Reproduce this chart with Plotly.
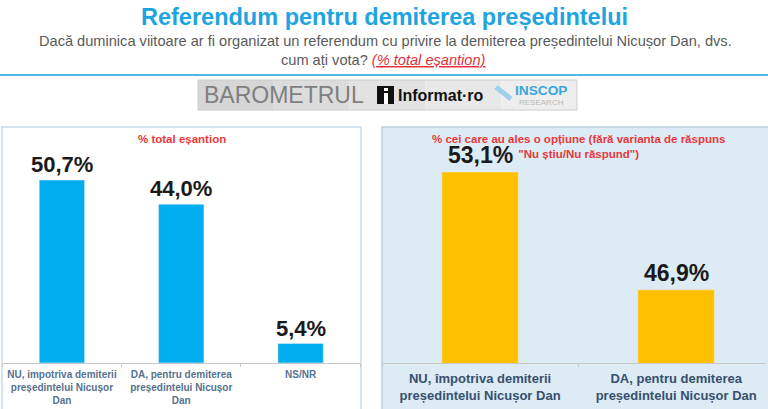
import plotly.graph_objects as go

W, H = 768, 409

# date sondaj
chei_total = ['nu', 'da', 'nsnr']
etichete_total = ['NU, impotriva demiterii<br>președintelui Nicușor<br>Dan',
                  'DA, pentru demiterea<br>președintelui Nicușor<br>Dan',
                  'NS/NR']
valori_total = [50.7, 44.0, 5.4]

chei_optiune = ['nu', 'da']
etichete_optiune = ['NU, împotriva demiterii<br>președintelui Nicușor Dan',
                    'DA, pentru demiterea<br>președintelui Nicușor Dan']
valori_optiune = [53.1, 46.9]

FONT = 'Liberation Sans, Arial, sans-serif'


def px_x(x):
    return x / W


def px_y(y):
    return 1 - y / H


def eticheta(v):
    return f"{v:.1f}".replace('.', ',') + '%'


fig = go.Figure()

fig.add_trace(go.Bar(x=chei_total, y=valori_total, marker_color='#00aeef',
                     width=0.38, xaxis='x', yaxis='y', hoverinfo='skip'))
fig.add_trace(go.Bar(x=chei_optiune, y=valori_optiune, marker_color='#ffc000',
                     width=0.39, xaxis='x2', yaxis='y2', hoverinfo='skip'))

annotations = []

# etichete valori
for k, v in zip(chei_total, valori_total):
    annotations.append(dict(x=k, y=v, xref='x', yref='y', text=eticheta(v),
                            showarrow=False, yanchor='bottom', yshift=1,
                            font=dict(family=FONT, size=22, color='#1a1a1a', weight='bold')))
for k, v in zip(chei_optiune, valori_optiune):
    annotations.append(dict(x=k, y=v, xref='x2', yref='y2', text=eticheta(v),
                            showarrow=False, yanchor='bottom', yshift=2,
                            font=dict(family=FONT, size=23, color='#1a1a1a', weight='bold')))


def text(x, y, t, size, color, weight='normal', style='normal'):
    annotations.append(dict(x=px_x(x), y=px_y(y), xref='paper', yref='paper', text=t,
                            showarrow=False, xanchor='center', yanchor='middle',
                            font=dict(family=FONT, size=size, color=color,
                                      weight=weight, style=style)))


# titlu si intrebare
text(384, 17, 'Referendum pentru demiterea președintelui', 23.5, '#1ea4e0', 'bold')
text(385, 41, 'Dacă duminica viitoare ar fi organizat un referendum cu privire la demiterea '
     'președintelui Nicușor Dan, dvs.', 14.6, '#5a5a5a')
text(383, 60, 'cum ați vota? <span style="color:#e0303a;text-decoration:underline">'
     '<i>(% total eșantion)</i></span>', 14.6, '#5a5a5a')

# fundal logo (gradient simplu in benzi)
benzi = ['#d6d6d6', '#dcdcdc', '#e2e2e2', '#e8e8e8', '#eeeeee']
shapes = []
for i, c in enumerate(benzi):
    x0 = 198 + i * (577 - 198) / len(benzi)
    x1 = 198 + (i + 1) * (577 - 198) / len(benzi)
    shapes.append(dict(type='rect', xref='paper', yref='paper', x0=px_x(x0), x1=px_x(x1),
                       y0=px_y(110), y1=px_y(80), fillcolor=c, line=dict(width=0)))

# logo
text(284, 95, 'BAROMETRUL', 23, '#7f7f7f')
text(441, 96, 'Informat·ro', 16, '#111111', 'bold')
text(541, 91, 'INSCOP', 13.7, '#3aa6dc', 'bold')
text(541, 102, 'RESEARCH', 8, '#b8b8b8')

# subtitluri panouri
text(182, 139, '% total eșantion', 11.5, '#e8383d', 'bold')
text(578, 146, '% cei care au ales o opțiune (fără varianta de răspuns<br>'
     '"Nu știu/Nu răspund")', 11.5, '#e8383d', 'bold')

shapes += [
    dict(type='line', xref='paper', yref='paper', x0=0, x1=1, y0=px_y(75), y1=px_y(75),
         line=dict(color='#4fb8e0', width=2)),
    dict(type='rect', xref='paper', yref='paper', x0=px_x(198), x1=px_x(577),
         y0=px_y(110), y1=px_y(80), line=dict(color='#cccccc', width=1)),
    dict(type='rect', xref='paper', yref='paper', x0=px_x(377), x1=px_x(394),
         y0=px_y(104), y1=px_y(86), fillcolor='#111111', line=dict(width=0)),
    dict(type='rect', xref='paper', yref='paper', x0=px_x(384), x1=px_x(388),
         y0=px_y(104), y1=px_y(93), fillcolor='#ffffff', line=dict(width=0)),
    dict(type='rect', xref='paper', yref='paper', x0=px_x(384), x1=px_x(388),
         y0=px_y(91), y1=px_y(88), fillcolor='#ffffff', line=dict(width=0)),
    dict(type='line', xref='paper', yref='paper', x0=px_x(496), x1=px_x(511),
         y0=px_y(87), y1=px_y(99), line=dict(color='#9fd0ea', width=5)),
    dict(type='rect', xref='paper', yref='paper', x0=px_x(2), x1=px_x(361),
         y0=px_y(420), y1=px_y(127), line=dict(color='#c6dbea', width=1.5), layer='below'),
    dict(type='rect', xref='paper', yref='paper', x0=px_x(382), x1=px_x(772),
         y0=px_y(420), y1=px_y(127), fillcolor='#ddebf4',
         line=dict(color='#b9d1e3', width=1.5), layer='below'),
]

fig.update_layout(
    width=W, height=H,
    margin=dict(l=0, r=0, t=0, b=0),
    paper_bgcolor='#ffffff', plot_bgcolor='rgba(0,0,0,0)',
    showlegend=False,
    annotations=annotations,
    shapes=shapes,
    xaxis=dict(domain=[px_x(2.25), px_x(360.25)], type='category', range=[-0.5, 2.5],
               tickvals=chei_total, ticktext=etichete_total,
               showline=True, linecolor='#c8c8c8', linewidth=1,
               ticks='outside', tickson='boundaries', ticklen=3, tickcolor='#c8c8c8',
               tickfont=dict(family=FONT, size=10, color='#56728f', weight='bold'),
               ticklabelstandoff=2, showgrid=False, fixedrange=True),
    yaxis=dict(domain=[px_y(363), px_y(127)], range=[0, 65.4], visible=False,
               fixedrange=True),
    xaxis2=dict(domain=[px_x(382), px_x(766)], type='category', range=[-0.5, 1.458],
                anchor='y2', tickvals=chei_optiune, ticktext=etichete_optiune,
                showline=True, linecolor='#c8c8c8', linewidth=1,
                ticks='outside', tickson='boundaries', ticklen=3, tickcolor='#c8c8c8',
                tickfont=dict(family=FONT, size=13, color='#37506e', weight='bold'),
                ticklabelstandoff=3, showgrid=False, fixedrange=True),
    yaxis2=dict(domain=[px_y(363), px_y(127)], range=[43.05, 55.47], anchor='x2',
                visible=False, fixedrange=True),
)

# fara marginea implicita a paginii
fig.write_html("out.html", config={'displayModeBar': False},
               post_script="document.body.style.margin='0';")
